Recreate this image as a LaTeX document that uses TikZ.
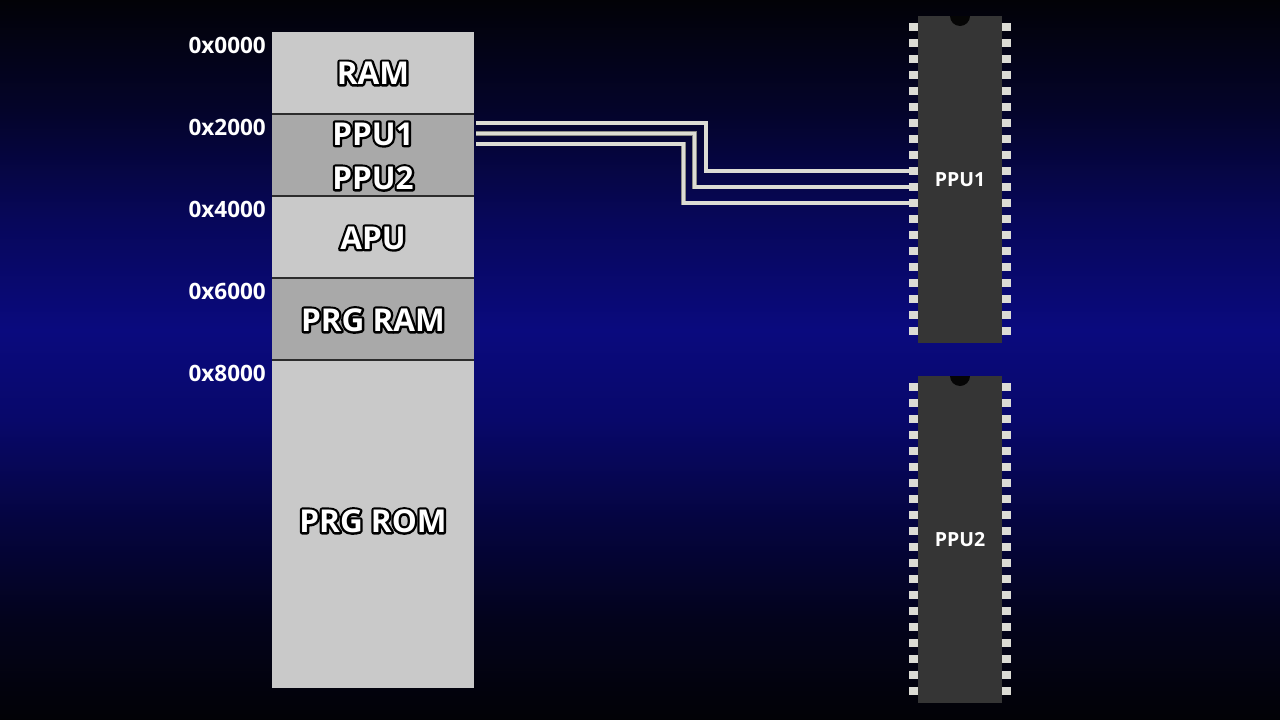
\documentclass[tikz,border=0pt]{standalone}
\usepackage{fontspec}
\setmainfont{Open Sans}
\usetikzlibrary{calc}
\definecolor{bgA}{HTML}{020207}
\definecolor{bgB}{HTML}{04042A}
\definecolor{bgC}{HTML}{07075A}
\definecolor{bgD}{HTML}{0A0A7E}
\definecolor{bgE}{HTML}{08086A}
\definecolor{bgF}{HTML}{050540}
\definecolor{bgG}{HTML}{03031C}
\definecolor{bgH}{HTML}{020206}
\definecolor{blklight}{HTML}{C9C9C9}
\definecolor{blkdark}{HTML}{A9A9A9}
\definecolor{divcol}{HTML}{2C2C2C}
\definecolor{chipcol}{HTML}{353535}
\definecolor{pincol}{HTML}{DCDCD5}
\definecolor{wirecol}{HTML}{DCDCD4}
\definecolor{wireedge}{HTML}{8C8C88}
\definecolor{notchcol}{HTML}{050505}
\tikzset{
  memblk/.style={rectangle, inner sep=0pt, outer sep=0pt, minimum width=202pt},
  divider/.style={draw=divcol, line width=2pt},
  biglbl/.style={font=\bfseries\fontsize{31.5}{31.5}\selectfont, inner sep=0pt, text=white},
  addr/.style={font=\bfseries\fontsize{22.5}{22.5}\selectfont, text=white, anchor=east, inner sep=0pt},
  chipbody/.style={fill=chipcol},
  notch/.style={fill=notchcol},
  pinsq/.style={fill=pincol},
  chiplbl/.style={font=\bfseries\fontsize{19.5}{19.5}\selectfont, text=white, inner sep=0pt},
  wire/.style={draw=wireedge, line width=0.7pt, double=wirecol, double distance=3.2pt},
}
\newcommand\olt[1]{\leavevmode\rlap{\special{pdf:literal direct 1 Tr 4.6 w 1 j 1 J 0 0 0 RG}#1\special{pdf:literal direct 0 Tr 0.4 w}}#1}
\begin{document}
\begin{tikzpicture}[x=1pt,y=-1pt]
\useasboundingbox (0,0) rectangle (1280,720);
% background
\shade[top color=bgA, bottom color=bgB] (0,0) rectangle (1280,110);
\shade[top color=bgB, bottom color=bgC] (0,110) rectangle (1280,220);
\shade[top color=bgC, bottom color=bgD] (0,220) rectangle (1280,330);
\shade[top color=bgD, bottom color=bgE] (0,330) rectangle (1280,420);
\shade[top color=bgE, bottom color=bgF] (0,420) rectangle (1280,520);
\shade[top color=bgF, bottom color=bgG] (0,520) rectangle (1280,620);
\shade[top color=bgG, bottom color=bgH] (0,620) rectangle (1280,720.5);
% memory map
\node[memblk, fill=blklight, minimum height=82pt] (ram) at (373,73) {};
\node[memblk, fill=blkdark, minimum height=82pt] (ppu) at (373,155) {};
\node[memblk, fill=blklight, minimum height=82pt] (apu) at (373,237) {};
\node[memblk, fill=blkdark, minimum height=82pt] (prgram) at (373,319) {};
\node[memblk, fill=blklight, minimum height=328pt] (prgrom) at (373,524) {};
\draw[divider] (ram.south west) -- (ram.south east);
\draw[divider] (ppu.south west) -- (ppu.south east);
\draw[divider] (apu.south west) -- (apu.south east);
\draw[divider] (prgram.south west) -- (prgram.south east);
\node[biglbl] (lram) at (373,73) {\olt{RAM}};
\node[biglbl] (lppu1) at (373,134) {\olt{PPU1}};
\node[biglbl] (lppu2) at (373,178) {\olt{PPU2}};
\node[biglbl] (lapu) at (373,238) {\olt{APU}};
\node[biglbl] (lprgram) at (373,320) {\olt{PRG RAM}};
\node[biglbl] (lprgrom) at (373,521) {\olt{PRG ROM}};
% addresses
\node[addr] (a0) at (266,45) {0x0000};
\node[addr] (a2) at (266,127) {0x2000};
\node[addr] (a4) at (266,209) {0x4000};
\node[addr] (a6) at (266,291) {0x6000};
\node[addr] (a8) at (266,373) {0x8000};
% chips
\foreach \t/\n/\lbl in {16/chipa/PPU1, 376/chipb/PPU2}{
  \fill[chipbody] (918,\t) rectangle (1002,\t+327);
  \fill[notch] (950,\t) arc[start angle=180, end angle=0, radius=10] -- cycle;
  \node[chiplbl] (\n) at (960,\t+164) {\lbl};
  \foreach \k in {0,...,19}{
    \fill[pinsq] (909,\t+7+16*\k) rectangle (918,\t+15+16*\k);
    \fill[pinsq] (1002,\t+7+16*\k) rectangle (1011,\t+15+16*\k);
  }
}
\coordinate (pin9) at (912,171);
\coordinate (pin10) at (912,187);
\coordinate (pin11) at (912,203);
\coordinate (s1) at (476,123);
\coordinate (s2) at (476,133.5);
\coordinate (s3) at (476,144);
\draw[wire] (s1) -- (706,123) |- (pin9);
\draw[wire] (s2) -- (694.5,133.5) |- (pin10);
\draw[wire] (s3) -- (683.5,144) |- (pin11);
\foreach \k in {9,10,11}{
  \fill[pinsq] (909,23+16*\k) rectangle (918,31+16*\k);
}
\end{tikzpicture}
\end{document}
